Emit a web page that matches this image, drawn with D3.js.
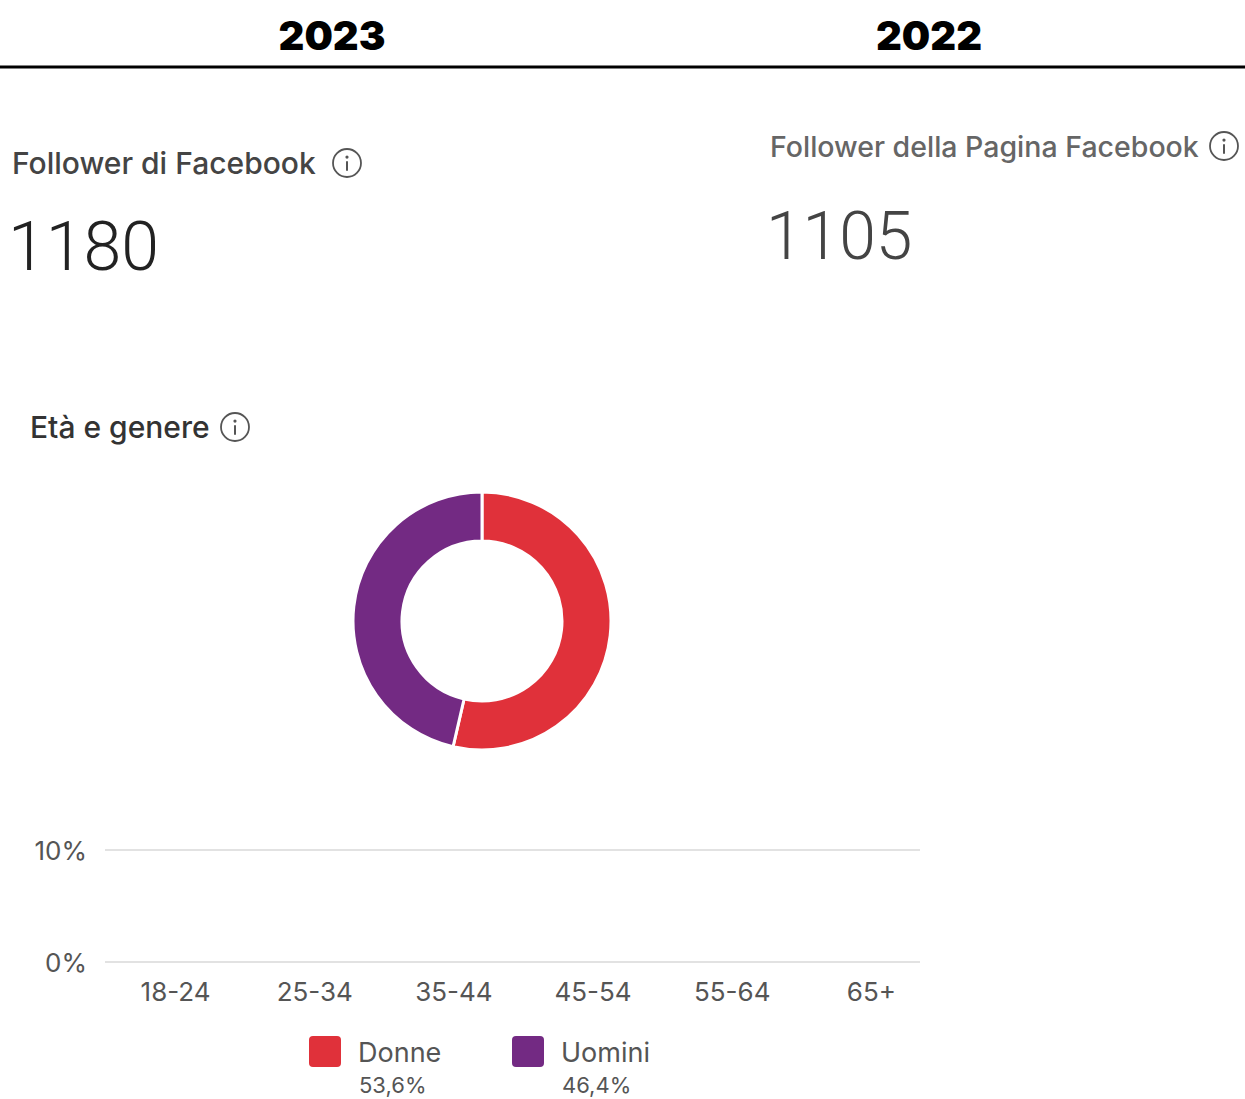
<!DOCTYPE html>
<html><head><meta charset="utf-8">
<script src="https://cdn.jsdelivr.net/npm/d3@7"></script>
<style>body{margin:0;background:#fff}svg{display:block}</style>
</head><body>
<svg id="c" width="1245" height="1099"></svg>
<script>
// Data
const years = ["2023", "2022"];
const followerLabels = ["Follower di Facebook", "Follower della Pagina Facebook"];
const followerValues = [1180, 1105];
const genders = ["Donne", "Uomini"];
const genderShares = [53.6, 46.4];
const genderColors = ["#e0313a", "#732a83"];
const ageGroups = ["18-24", "25-34", "35-44", "45-54", "55-64", "65+"];
const donneByAge = [0, 0, 0, 0, 0, 0];
const uominiByAge = [0, 0, 0, 0, 0, 0];
const yTicks = [0, 10];

const svg = d3.select("#c");
const F = "Inter, 'Open Sans', sans-serif";
const FN = "Roboto, Inter, sans-serif";

// Year headers
const yearX = d3.scalePoint().domain(years).range([332, 929]);
svg.selectAll("text.year").data(years).join("text")
  .attr("x", d => yearX(d)).attr("y", 50).attr("text-anchor", "middle")
  .attr("font-family", F).attr("font-weight", 900).attr("font-size", 40)
  .attr("fill", "#000").text(d => d);
svg.append("rect").attr("x", 0).attr("y", 65.5).attr("width", 1245).attr("height", 3).attr("fill", "#000");

function infoIcon(cx, cy, r) {
  const g = svg.append("g");
  g.append("circle").attr("cx", cx).attr("cy", cy).attr("r", r).attr("fill", "none").attr("stroke", "#555").attr("stroke-width", 1.8);
  g.append("circle").attr("cx", cx).attr("cy", cy - r * 0.42).attr("r", 1.6).attr("fill", "#555");
  g.append("line").attr("x1", cx).attr("x2", cx).attr("y1", cy - r * 0.12).attr("y2", cy + r * 0.55).attr("stroke", "#555").attr("stroke-width", 2);
}

// Follower headers
svg.append("text").attr("x", 12).attr("y", 174).attr("font-family", F).attr("font-weight", 500)
  .attr("font-size", 30).attr("fill", "#444").text(followerLabels[0]);
infoIcon(347, 163, 14);
svg.append("text").attr("x", 8).attr("y", 270).attr("font-family", FN).attr("font-weight", 300)
  .attr("font-size", 68).attr("fill", "#222").text(followerValues[0]);

svg.append("text").attr("x", 770).attr("y", 157).attr("font-family", F).attr("font-weight", 500)
  .attr("font-size", 28.5).attr("fill", "#666").text(followerLabels[1]);
infoIcon(1224, 146, 14);
svg.append("text").attr("x", 766).attr("y", 259).attr("font-family", FN).attr("font-weight", 300)
  .attr("font-size", 66).attr("fill", "#444").text(followerValues[1]);

// Età e genere
svg.append("text").attr("x", 30).attr("y", 438).attr("font-family", F).attr("font-weight", 500)
  .attr("font-size", 30).attr("fill", "#333").text("Età e genere");
infoIcon(235, 427, 14);

// Donut
const pie = d3.pie().sort(null).value(d => d)(genderShares);
const arc = d3.arc().innerRadius(80).outerRadius(129);
const dg = svg.append("g").attr("transform", "translate(482,621)");
dg.selectAll("path").data(pie).join("path")
  .attr("d", arc).attr("fill", (d, i) => genderColors[i])
  .attr("stroke", "#fff").attr("stroke-width", 3);

// Bar chart
const x = d3.scaleBand().domain(ageGroups).range([106, 941]).paddingInner(0.3).paddingOuter(0.15);
const y = d3.scaleLinear().domain([0, 10]).range([962, 850]);
svg.selectAll("line.grid").data(yTicks).join("line")
  .attr("x1", 105).attr("x2", 920).attr("y1", d => y(d)).attr("y2", d => y(d))
  .attr("stroke", "#e2e2e2").attr("stroke-width", 2);
svg.selectAll("text.ytick").data(yTicks).join("text")
  .attr("x", 87).attr("y", d => y(d) + 10).attr("text-anchor", "end")
  .attr("font-family", F).attr("font-size", 26).attr("fill", "#555").text(d => d + "%");
svg.selectAll("text.xtick").data(ageGroups).join("text")
  .attr("x", d => x(d) + x.bandwidth() / 2).attr("y", 1001).attr("text-anchor", "middle")
  .attr("font-family", F).attr("font-size", 26).attr("fill", "#555").text(d => d);
const sub = d3.scaleBand().domain(genders).range([0, x.bandwidth()]).padding(0.1);
const barData = ageGroups.flatMap((a, i) => [
  {a, g: genders[0], v: donneByAge[i], c: genderColors[0]},
  {a, g: genders[1], v: uominiByAge[i], c: genderColors[1]}]);
svg.selectAll("rect.bar").data(barData).join("rect")
  .attr("x", d => x(d.a) + sub(d.g)).attr("width", sub.bandwidth())
  .attr("y", d => y(d.v)).attr("height", d => y(0) - y(d.v)).attr("fill", d => d.c);

// Legend
const legX = [309, 512];
genders.forEach((g, i) => {
  svg.append("rect").attr("x", legX[i]).attr("y", 1036).attr("width", 32).attr("height", 31).attr("rx", 4).attr("fill", genderColors[i]);
  svg.append("text").attr("x", legX[i] + 49).attr("y", 1062).attr("font-family", F).attr("font-size", 27).attr("fill", "#555").text(g);
  svg.append("text").attr("x", legX[i] + 50).attr("y", 1093).attr("font-family", F).attr("font-size", 22).attr("fill", "#555").text(String(genderShares[i]).replace(".", ",") + "%");
});
</script>
</body></html>
